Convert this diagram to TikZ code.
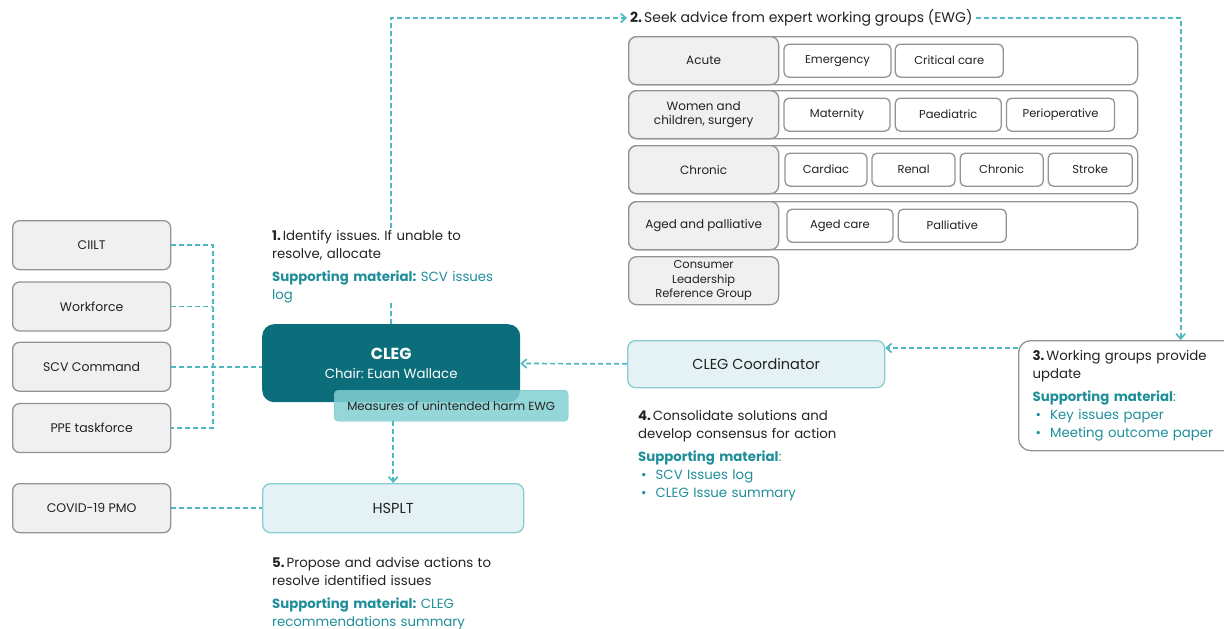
\documentclass[tikz,border=0pt]{standalone}
\usepackage{fontspec}
\setmainfont{Poppins}
\usetikzlibrary{positioning,arrows.meta}

\definecolor{cleg}{HTML}{0B6E7A}
\definecolor{dashteal}{HTML}{4FB9C0}
\definecolor{tealtext}{HTML}{1F8E99}
\definecolor{paleblue}{HTML}{E5F2F5}
\definecolor{paleline}{HTML}{86CDD2}
\definecolor{harmfill}{HTML}{82CFD2}
\definecolor{harmline}{HTML}{6CC2C6}
\definecolor{greyfill}{HTML}{F0F0F0}
\definecolor{greyline}{HTML}{939393}
\definecolor{ink}{HTML}{222222}

\tikzset{
  sidebox/.style={draw=greyline, fill=greyfill, rounded corners=7pt, line width=1.3pt,
    minimum width=158pt, minimum height=49pt, text=ink, font=\fontsize{12.5}{15}\selectfont},
  rowbox/.style={draw=greyline, fill=white, rounded corners=8pt, line width=1.3pt,
    minimum width=509pt, minimum height=48pt, anchor=north west},
  catbox/.style={draw=greyline, fill=greyfill, rounded corners=8pt, line width=1.3pt,
    minimum width=150pt, minimum height=48pt, anchor=north west, align=center,
    text=ink, font=\fontsize{12}{14}\selectfont},
  subbox/.style={draw=greyline, fill=white, rounded corners=5pt, line width=1.3pt,
    minimum height=33pt, inner sep=2pt, text=ink, font=\fontsize{11.5}{13}\selectfont},
  palebox/.style={draw=paleline, fill=paleblue, rounded corners=8pt, line width=1.3pt,
    text=ink, font=\fontsize{14.5}{17}\selectfont},
  flow/.style={draw=dashteal, line width=1.7pt, dash pattern=on 5pt off 3pt},
  arr/.style={-{Straight Barb[length=5pt,width=9pt]}},
  stepnote/.style={anchor=north west, align=left, inner sep=0pt, text=ink,
    font=\fontsize{13.3}{18}\selectfont},
}

\begin{document}
\frenchspacing
\begin{tikzpicture}[x=1pt, y=-1pt]
\useasboundingbox (0,0) rectangle (1224,629);

%Declare nodes.
\node[sidebox, anchor=north west] (ciilt) at (12,220) {CIILT};
\node[sidebox, below=11pt of ciilt] (workforce) {Workforce};
\node[sidebox, below=10pt of workforce] (scv) {SCV Command};
\node[sidebox, below=11pt of scv] (ppe) {PPE taskforce};
\node[sidebox, anchor=north west] (covid) at (12,483) {COVID-19 PMO};

\node[fill=cleg, text=white, rounded corners=12pt, minimum width=258pt, minimum height=78pt,
  align=center, anchor=north west, font=\fontsize{13.3}{19}\selectfont] (cleg) at (262,324)
  {{\fontsize{16}{19}\selectfont\bfseries CLEG}\\Chair: Euan Wallace};
\node[draw=harmline, fill=harmfill, fill opacity=0.85, text opacity=1, rounded corners=4pt,
  minimum width=234pt, minimum height=31pt, anchor=north west, text=ink,
  font=\fontsize{11.8}{13}\selectfont] (harm) at (334,390) {Measures of unintended harm EWG};
\node[palebox, minimum width=261pt, minimum height=49pt, anchor=north west] (hsplt) at (262,483) {HSPLT};
\node[palebox, minimum width=257pt, minimum height=47pt, anchor=north west] (coord) at (627,340) {CLEG Coordinator};

%Expert working groups.
\node[anchor=west, inner sep=3pt, text=ink, font=\fontsize{14}{16}\selectfont] (ewg) at (627,18)
  {\textbf{2.}\hspace{2pt}Seek advice from expert working groups (EWG)};

\node[rowbox] (acuterow) at (628,36) {};
\node[catbox] (acute) at (628,36) {Acute};
\node[subbox, minimum width=107pt, right=4pt of acute] (emergency) {Emergency};
\node[subbox, minimum width=108pt, right=3pt of emergency] (critical) {Critical care};

\node[rowbox] (womenrow) at (628,90) {};
\node[catbox] (women) at (628,90) {Women and\\children, surgery};
\node[subbox, minimum width=106pt, right=4pt of women] (maternity) {Maternity};
\node[subbox, minimum width=106pt, right=4pt of maternity] (paediatric) {Paediatric};
\node[subbox, minimum width=108pt, right=4pt of paediatric] (periop) {Perioperative};

\node[rowbox] (chronicrow) at (628,145) {};
\node[catbox] (chronic) at (628,145) {Chronic};
\node[subbox, minimum width=82pt, right=5pt of chronic] (cardiac) {Cardiac};
\node[subbox, minimum width=83pt, right=3.8pt of cardiac] (renal) {Renal};
\node[subbox, minimum width=83pt, right=3.8pt of renal] (chronicsub) {Chronic};
\node[subbox, minimum width=84pt, right=3.8pt of chronicsub] (stroke) {Stroke};

\node[rowbox] (agedrow) at (628,201) {};
\node[catbox] (aged) at (628,201) {Aged and palliative};
\node[subbox, minimum width=106pt, right=7pt of aged] (agedcare) {Aged care};
\node[subbox, minimum width=108pt, right=4pt of agedcare] (palliative) {Palliative};

\node[catbox, font=\fontsize{11.5}{14.5}\selectfont] (consumer) at (628,256) {Consumer\\Leadership\\Reference Group};

\node[draw=greyline, fill=white, rounded corners=12pt, line width=1.3pt, minimum height=110pt,
  inner xsep=14pt, text width=296pt, align=left, anchor=north west, text=ink,
  font=\fontsize{13.3}{18}\selectfont] (wg) at (1018,340)
  {\textbf{3.}\hspace{2pt}Working groups provide\\update\\[5pt]
   \color{tealtext}\textbf{Supporting material}:\\
   \hspace*{3pt}\textbullet\hspace{9pt}Key issues paper\\
   \hspace*{3pt}\textbullet\hspace{9pt}Meeting outcome paper};

%Setup edges.
\draw[flow] (ciilt.east) -- ++(42,0) |- (ppe.east);
\draw[flow] (workforce.east) -- ++(42,0);
\draw[flow] (scv.east) -- (scv.east -| cleg.west);
\draw[flow] (covid) -- (hsplt);
\draw[flow, arr] (cleg.north) |- (ewg.west);
\draw[flow, arr] (ewg.east) -| (wg.north);
\draw[flow, arr] ([yshift=-8pt]wg.north west) -- ([yshift=-8pt]coord.north east);
\draw[flow, arr] (coord) -- (cleg);
\draw[flow, arr] (harm.south -| hsplt.north) -- (hsplt.north);

%Step notes.
\node[stepnote, fill=white, text width=245pt] (step1) at (272,230)
  {\textbf{1.}\hspace{2pt}Identify issues. If unable to\\resolve, allocate\\[5pt]
   \color{tealtext}\textbf{Supporting material:} SCV issues\\log};
\node[stepnote, text width=240pt] (step4) at (638,410)
  {\textbf{4.}\hspace{2pt}Consolidate solutions and\\develop consensus for action\\[5pt]
   \color{tealtext}\textbf{Supporting material}:\\
   \hspace*{3pt}\textbullet\hspace{9pt}SCV Issues log\\
   \hspace*{3pt}\textbullet\hspace{9pt}CLEG Issue summary};
\node[stepnote, text width=260pt] (step5) at (272,557)
  {\textbf{5.}\hspace{2pt}Propose and advise actions to\\resolve identified issues\\[5pt]
   \color{tealtext}\textbf{Supporting material:} CLEG\\recommendations summary};

\end{tikzpicture}
\end{document}
